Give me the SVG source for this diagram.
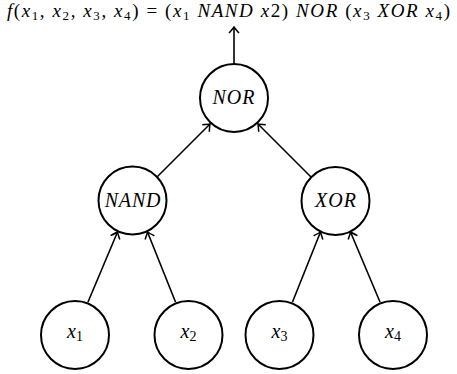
<svg xmlns="http://www.w3.org/2000/svg" width="457" height="374" viewBox="0 0 457 374">
<style>
.node circle{fill:#fff;stroke:#000;stroke-width:2}
.lbl{font-family:"Liberation Serif","Times New Roman","DejaVu Serif",serif;font-size:20px;font-style:italic;text-anchor:middle}
.sub{font-style:normal;font-size:14px}
.edge{stroke:#000;stroke-width:1.6;fill:none;marker-end:url(#arr)}
.title{font-family:"Liberation Serif","Times New Roman","DejaVu Serif",serif;font-size:19px}
.i{font-style:italic}
</style>
<defs>
<marker id="arr" markerUnits="userSpaceOnUse" markerWidth="14" markerHeight="14" viewBox="-8 -7 10 14" refX="0" refY="0" orient="auto">
<path d="M-6,-5 Q-1.5,-1 0,0 Q-1.5,1 -6,5" fill="none" stroke="#000" stroke-width="1.5"/>
</marker>
</defs>
<text class="title" x="7" y="17" textLength="443" lengthAdjust="spacing"><tspan class="i">f</tspan>(<tspan class="i">x</tspan><tspan font-size="13" dy="3">1</tspan><tspan dy="-3">, </tspan><tspan class="i">x</tspan><tspan font-size="13" dy="3">2</tspan><tspan dy="-3">, </tspan><tspan class="i">x</tspan><tspan font-size="13" dy="3">3</tspan><tspan dy="-3">, </tspan><tspan class="i">x</tspan><tspan font-size="13" dy="3">4</tspan><tspan dy="-3">) = (</tspan><tspan class="i">x</tspan><tspan font-size="13" dy="3">1</tspan><tspan dy="-3" class="i">  NAND x</tspan>2) <tspan class="i">NOR</tspan> (<tspan class="i">x</tspan><tspan font-size="13" dy="3">3</tspan><tspan dy="-3" class="i">  XOR x</tspan><tspan font-size="13" dy="3">4</tspan><tspan dy="-3">)</tspan></text>
<g id="connectors">
<path class="edge" d="M234,63 L234,27"/>
<path class="edge" d="M157,177 L210,124"/>
<path class="edge" d="M311,177 L258,124"/>
<path class="edge" d="M88,302 L117.5,232"/>
<path class="edge" d="M175.5,302 L147.5,232"/>
<path class="edge" d="M292.5,302 L320.5,232"/>
<path class="edge" d="M380,302 L350.5,232"/>
</g>
<g id="nor" class="node"><circle cx="234" cy="98" r="34"/><text class="lbl" x="234" y="104" letter-spacing="1">NOR</text></g>
<g id="nand" class="node"><circle cx="132.5" cy="200.5" r="34"/><text class="lbl" x="133" y="207" letter-spacing="0.8">NAND</text></g>
<g id="xor" class="node"><circle cx="335.5" cy="201" r="34"/><text class="lbl" x="336" y="207" letter-spacing="1">XOR</text></g>
<g id="x1" class="node"><circle cx="75" cy="335" r="34"/><text class="lbl" x="75" y="338"><tspan>x</tspan><tspan class="sub" dy="3">1</tspan></text></g>
<g id="x2" class="node"><circle cx="188.5" cy="335" r="34"/><text class="lbl" x="188.5" y="338"><tspan>x</tspan><tspan class="sub" dy="3">2</tspan></text></g>
<g id="x3" class="node"><circle cx="279.5" cy="335" r="34"/><text class="lbl" x="279.5" y="338"><tspan>x</tspan><tspan class="sub" dy="3">3</tspan></text></g>
<g id="x4" class="node"><circle cx="393" cy="335" r="34"/><text class="lbl" x="393" y="338"><tspan>x</tspan><tspan class="sub" dy="3">4</tspan></text></g>
</svg>
